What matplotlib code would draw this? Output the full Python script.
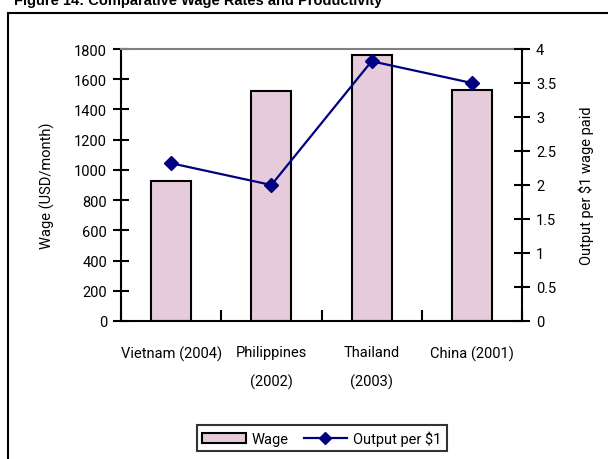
import matplotlib
matplotlib.use("Agg")
import matplotlib.pyplot as plt
import matplotlib.font_manager as fm
from matplotlib.patches import Rectangle
from matplotlib.lines import Line2D
import numpy as np

categories = ["Vietnam (2004)", "Philippines\n(2002)", "Thailand\n(2003)", "China (2001)"]
wage = [925, 1520, 1760, 1530]
output_per_dollar = [2.32, 2.0, 3.82, 3.5]
wage_ticks = [0, 200, 400, 600, 800, 1000, 1200, 1400, 1600, 1800]
output_ticks = [0, 0.5, 1, 1.5, 2, 2.5, 3, 3.5, 4]
output_tick_labels = ["0", "0.5", "1", "1.5", "2", "2.5", "3", "3.5", "4"]

names = {f.name for f in fm.fontManager.ttflist}
narrow = "Liberation Sans Narrow" if "Liberation Sans Narrow" in names else "Roboto"
plt.rcParams["font.family"] = [narrow, "DejaVu Sans"]

W, H = 608, 460
fig = plt.figure(figsize=(W / 100, H / 100), dpi=100)

def fx(px):
    return px / W

def fy(py):
    return 1 - py / H

# outer frame
fig.patches.append(Rectangle((fx(8), fy(470)), fx(620), fy(14) - fy(470),
                             transform=fig.transFigure, fill=False,
                             edgecolor="black", linewidth=1.5))

fig.text(fx(14), fy(5), "Figure 14: Comparative Wage Rates and Productivity",
         fontsize=10.5, fontweight="bold", family=["Liberation Sans", "DejaVu Sans"],
         va="baseline", ha="left")

left, right, top, bottom = 121, 522, 50, 322
ax = fig.add_axes([fx(left), fy(bottom), fx(right - left), fy(top) - fy(bottom)])
x = np.arange(len(categories))
ax.bar(x, wage, width=0.4, color="#E6CCDB", edgecolor="black", linewidth=1.5, zorder=2)
ax.set_xlim(-0.5, len(categories) - 0.5)
ax.set_ylim(0, 1800)
ax.set_yticks(wage_ticks)
ax.set_yticklabels([str(t) for t in wage_ticks], fontsize=10.5)
ax.set_ylabel("Wage (USD/month)", fontsize=10.5, labelpad=14)

ax.set_xticks(np.arange(len(categories) + 1) - 0.5)
ax.set_xticklabels([])
ax.tick_params(axis="x", direction="in", length=8, width=1.5)
ax.tick_params(axis="y", direction="inout", length=12, width=1.5, pad=4)
for i, c in enumerate(categories):
    ax.text(i, -0.09, c, transform=ax.get_xaxis_transform(), ha="center", va="top",
            fontsize=10.5, linespacing=2.2)

ax.spines["top"].set_color("#808080")
ax.spines["top"].set_linewidth(1.5)
ax.spines["left"].set_linewidth(1.5)
ax.spines["bottom"].set_linewidth(1.5)
ax.spines["right"].set_visible(False)

ax2 = ax.twinx()
ax2.plot(x, output_per_dollar, color="#000080", linewidth=1.6, marker="D",
         markersize=7, zorder=3)
ax2.set_ylim(0, 4)
ax2.set_yticks(output_ticks)
ax2.set_yticklabels(output_tick_labels, fontsize=10.5)
ax2.tick_params(axis="y", direction="inout", length=12, width=1.5, pad=4)
ax2.set_ylabel("Output per $1 wage paid", fontsize=10.5, labelpad=16)
for s in ["top", "left", "bottom"]:
    ax2.spines[s].set_visible(False)
ax2.spines["right"].set_linewidth(1.5)

handles = [Rectangle((0, 0), 1, 1, facecolor="#E6CCDB", edgecolor="black", linewidth=1.5),
           Line2D([], [], color="#000080", linewidth=1.6, marker="D", markersize=6)]
leg = fig.legend(handles, ["Wage", "Output per $1"], loc="center",
                 bbox_to_anchor=(fx(322), fy(439)), ncol=2, frameon=True,
                 fancybox=False, edgecolor="black", fontsize=10.5,
                 handlelength=3.0, handletextpad=0.4, columnspacing=1.0,
                 borderpad=0.35)
leg.get_frame().set_linewidth(1.5)

fig.savefig("out.png", dpi=100)
